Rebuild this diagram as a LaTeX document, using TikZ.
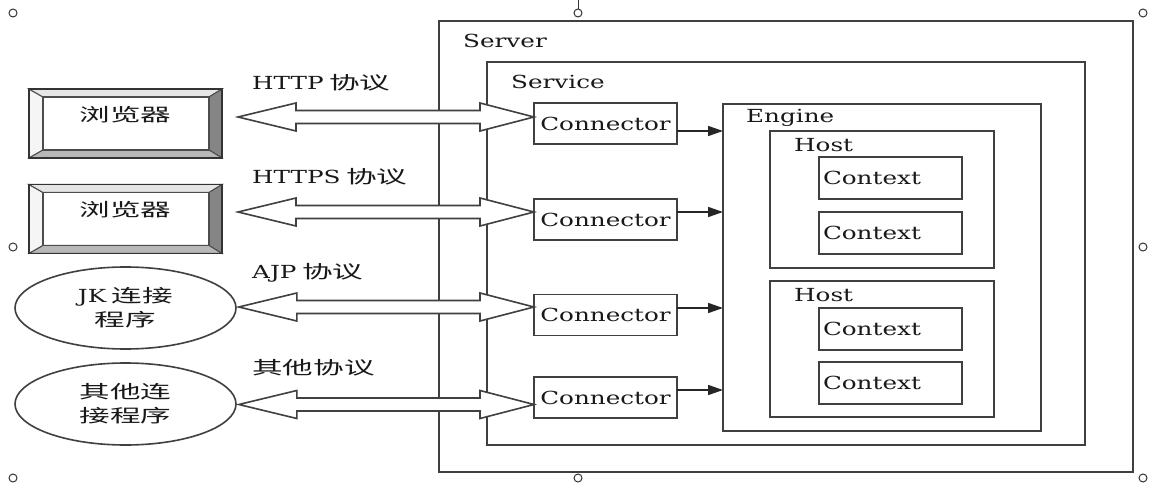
\documentclass[tikz,border=0pt]{standalone}
\usepackage{fontspec}
\setmainfont{DejaVu Serif}
\newfontfamily\cjk{Noto Sans CJK SC}
\usepackage{graphicx}
\usetikzlibrary{
    positioning,
    calc,
    arrows.meta,
    shapes.geometric
}
\newcommand{\cn}[1]{\scalebox{1.7}[1]{\cjk #1}}
\newcommand{\en}[1]{\scalebox{1.37}[1]{#1}}
\newcommand{\dblarrow}[4]{%
    \draw[blockarrow] let \p1=([xshift=#3]#1.east), \p2=([yshift=#4]#2.west) in
        (\x1,\y2) -- ++(58pt,14pt) -- ++(0pt,-7.5pt) -- (\x2-54pt,\y2+6.5pt)
        -- ++(0pt,7.5pt) -- (\x2,\y2) -- ++(-54pt,-14pt) -- ++(0pt,7.5pt)
        -- (\x1+58pt,\y2-6.5pt) -- ++(0pt,-7.5pt) -- cycle;}
\tikzset{
    txt/.style={font=\fontsize{18}{24}\selectfont, text=black!90, inner sep=0pt},
    frame/.style={draw=black!75, line width=1.8pt, anchor=north west, inner sep=0pt, outer sep=0pt},
    title/.style={txt, anchor=west},
    connbox/.style={txt, draw=black!75, line width=1.8pt, minimum width=143pt, minimum height=41pt, outer sep=0pt},
    ctxbox/.style={txt, draw=black!75, line width=1.8pt, minimum width=143pt, minimum height=42pt, inner xsep=4pt, outer sep=0pt},
    browser/.style={draw=black!80, line width=1.6pt, minimum width=193pt, minimum height=69pt, outer sep=0pt},
    bevel/.style={draw=black!70, line width=1pt},
    client/.style={txt, ellipse, draw=black!75, line width=1.6pt, minimum width=221pt, minimum height=82pt, align=center},
    proto/.style={txt, anchor=west},
    flow/.style={-{Triangle[length=15pt, width=10pt]}, draw=black!85, line width=1.6pt},
    blockarrow/.style={draw=black!75, line width=1.6pt, fill=white, line join=miter},
    handle/.style={draw=black!80, line width=1pt, fill=white}
}

\begin{document}
\begin{tikzpicture}[x=1pt, y=-1pt]
    \path[use as bounding box, fill=white] (0,0) rectangle (1157,489);

    % --- CONTAINERS ---
    \node[frame, minimum width=694pt, minimum height=451pt] (server) at (439,21) {};
    \node[frame, minimum width=598pt, minimum height=383pt] (service) at (487,62) {};
    \node[frame, minimum width=318pt, minimum height=327pt] (engine) at (723,104) {};
    \node[frame, minimum width=224pt, minimum height=137pt] (host1) at (770,131) {};
    \node[frame, minimum width=224pt, minimum height=136pt] (host2) at (770,281) {};

    \node[title] (serverlbl) at ($(server.north west)+(24,20)$) {\en{Server}};
    \node[title] (servicelbl) at ($(service.north west)+(24,20)$) {\en{Service}};
    \node[title] (enginelbl) at ($(engine.north west)+(23,14)$) {\en{Engine}};
    \node[title] (host1lbl) at ($(host1.north west)+(24,14)$) {\en{Host}};
    \node[title] (host2lbl) at ($(host2.north west)+(24,14)$) {\en{Host}};

    % --- CONTEXTS ---
    \node[ctxbox] (ctx1) at (890.5,178) {\makebox[135pt][l]{\en{Context}}};
    \node[ctxbox] (ctx2) at (890.5,233) {\makebox[135pt][l]{\en{Context}}};
    \node[ctxbox] (ctx3) at (890.5,329) {\makebox[135pt][l]{\en{Context}}};
    \node[ctxbox] (ctx4) at (890.5,383) {\makebox[135pt][l]{\en{Context}}};

    % --- CONNECTORS ---
    \node[connbox] (c1) at (605.5,123.5) {\en{Connector}};
    \node[connbox] (c2) at (605.5,219.5) {\en{Connector}};
    \node[connbox] (c3) at (605.5,315) {\en{Connector}};
    \node[connbox] (c4) at (605.5,397.5) {\en{Connector}};

    \foreach \i/\d in {1/-7.5pt, 2/7.5pt, 3/7pt, 4/7.5pt} {
        \coordinate (o\i) at ([yshift=\d]c\i.east);
        \draw[flow] (o\i) -- (o\i -| engine.west);
    }

    % --- CLIENTS ---
    \node[browser] (b1) at (125.5,123.5) {};
    \node[browser] (b2) at (125.5,219) {};
    \foreach \b in {b1,b2} {
        \coordinate (\b-nw) at ($(\b.north west)+(14,8)$);
        \coordinate (\b-ne) at ($(\b.north east)+(-13,8)$);
        \coordinate (\b-sw) at ($(\b.south west)+(14,-8)$);
        \coordinate (\b-se) at ($(\b.south east)+(-13,-8)$);
        \filldraw[bevel, fill=black!4] (\b.north west) -- (\b-nw) -- (\b-sw) -- (\b.south west) -- cycle;
        \filldraw[bevel, fill=black!10] (\b.north west) -- (\b.north east) -- (\b-ne) -- (\b-nw) -- cycle;
        \filldraw[bevel, fill=black!48] (\b.north east) -- (\b.south east) -- (\b-se) -- (\b-ne) -- cycle;
        \filldraw[bevel, fill=black!28] (\b.south west) -- (\b.south east) -- (\b-se) -- (\b-sw) -- cycle;
        \draw[bevel, line width=1.4pt] (\b-nw) rectangle (\b-se);
        \draw[draw=black!80, line width=1.6pt] (\b.north west) rectangle (\b.south east);
        \node[txt] at ([yshift=9pt]\b.center) {\cn{浏览器}};
    }

    \node[client] (e1) at (125.5,308) {\en{JK}~\cn{连接}\\\cn{程序}};
    \node[client] (e2) at (125.5,404) {\cn{其他连}\\\cn{接程序}};

    % --- PROTOCOLS ---
    \node[proto] (p1) at (252,83) {\en{HTTP}~\cn{协议}};
    \node[proto] (p2) at (252,177) {\en{HTTPS}~\cn{协议}};
    \node[proto] (p3) at (252,273) {\en{AJP}~\cn{协议}};
    \node[proto] (p4) at (252,368) {\cn{其他协议}};

    \foreach \s/\t/\g/\d in {b1/c1/16pt/6.5pt, b2/c2/16pt/7.5pt, e1/c3/2pt/8pt, e2/c4/2pt/-7pt} {
        \dblarrow{\s}{\t}{\g}{\d}
    }

    % --- HANDLES ---
    \draw[handle] (578,0) -- (578,9);
    \foreach \hx/\hy in {13/13, 578/13, 1143/13, 13/247, 1143/247, 13/478, 578/478, 1143/478}
        \draw[handle] (\hx,\hy) circle (4pt);
\end{tikzpicture}
\end{document}
